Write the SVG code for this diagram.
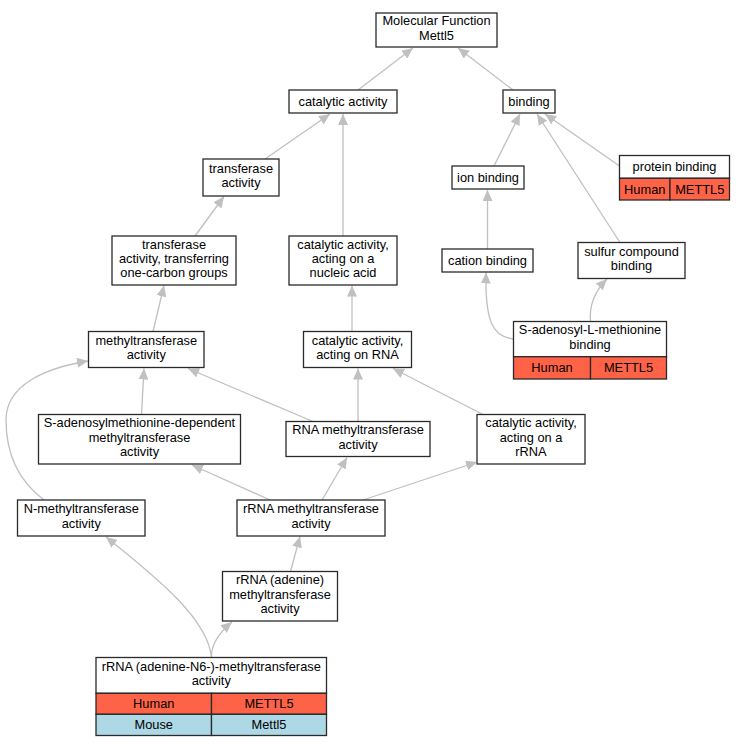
<svg xmlns="http://www.w3.org/2000/svg" width="745" height="747" viewBox="0 0 745 747">
<style>
.n rect{fill:#fff;stroke:#2a2a2a;stroke-width:1.3}
.n rect.h{fill:#ff6347}
.n rect.m{fill:#add8e6}
text{font-family:"Liberation Sans",Arial,sans-serif;font-size:12.8px;fill:#000;text-anchor:middle}
#edges path{fill:none;stroke:#c0c0c0;stroke-width:1.3;marker-end:url(#ah)}
</style>
<defs>
<marker id="ah" markerUnits="userSpaceOnUse" markerWidth="12" markerHeight="10" refX="11" refY="5" orient="auto" viewBox="0 0 12 10">
<path d="M0,0 L11,5 L0,10 z" fill="#c0c0c0"/>
</marker>
</defs>
<rect width="745" height="747" fill="#fff"/>
<g id="edges">
<path d="M358,90 L413,48"/>
<path d="M513,90 L458,48"/>
<path d="M265,159 L330,114"/>
<path d="M343,236 L343,114"/>
<path d="M494,166 L520,114"/>
<path d="M620,242.5 L537,114"/>
<path d="M619.5,166 L545,114"/>
<path d="M195,236 L224,196.5"/>
<path d="M487.5,249 L487.5,190"/>
<path d="M513.5,339 C492,337 485,320 486,272.5"/>
<path d="M590.5,321.5 C589,305 595,291 607,279"/>
<path d="M153,331.5 L164,285.5"/>
<path d="M352,331.5 L352,285.5"/>
<path d="M141.5,414.5 L144,368.5"/>
<path d="M313,421.5 L188,368.5"/>
<path d="M358,421.5 L358,368.5"/>
<path d="M483,414.5 L393,368.5"/>
<path d="M44,500 C20,482 6,455 6,420 C6,385 45,368 88,361"/>
<path d="M270,500 L192,465"/>
<path d="M322,500 L347,457.5"/>
<path d="M363,500 L477,462"/>
<path d="M290.5,571.5 L300,536.5"/>
<path d="M211.5,657.5 C211,645 220,632 232,622"/>
<path d="M211.5,657.5 C208,620 160,580 106,537"/>
</g>
<g id="mf" class="n"><rect x="376" y="13" width="121" height="34"/><text x="436.5" y="25.3">Molecular Function</text><text x="436.5" y="39.7">Mettl5</text></g>
<g id="cat" class="n"><rect x="289" y="90" width="108" height="23"/><text x="343" y="106">catalytic activity</text></g>
<g id="binding" class="n"><rect x="503" y="90" width="52" height="23"/><text x="529" y="106">binding</text></g>
<g id="transferase" class="n"><rect x="203" y="159" width="76" height="37"/><text x="241" y="172.8">transferase</text><text x="241" y="187.2">activity</text></g>
<g id="onecarbon" class="n"><rect x="112" y="236" width="124" height="49"/><text x="174" y="248.6">transferase</text><text x="174" y="263">activity, transferring</text><text x="174" y="277.4">one-carbon groups</text></g>
<g id="nucleic" class="n"><rect x="289" y="236" width="108" height="49"/><text x="343" y="248.6">catalytic activity,</text><text x="343" y="263">acting on a</text><text x="343" y="277.4">nucleic acid</text></g>
<g id="ion" class="n"><rect x="452" y="166" width="72" height="23"/><text x="488" y="182">ion binding</text></g>
<g id="protein" class="n"><rect x="619.5" y="155.5" width="110" height="22.8"/><rect class="h" x="619.5" y="178.3" width="50.5" height="21.7"/><rect class="h" x="670" y="178.3" width="59.5" height="21.7"/><text x="674.5" y="171">protein binding</text><text x="644.75" y="193.7">Human</text><text x="699.75" y="193.7">METTL5</text></g>
<g id="cation" class="n"><rect x="442" y="249" width="91" height="23"/><text x="487.5" y="265">cation binding</text></g>
<g id="sulfur" class="n"><rect x="578" y="242.5" width="107" height="36"/><text x="631.5" y="255.8">sulfur compound</text><text x="631.5" y="270.2">binding</text></g>
<g id="sambinding" class="n"><rect x="513.5" y="321.5" width="153" height="35.2"/><rect class="h" x="513.5" y="356.7" width="77" height="22.3"/><rect class="h" x="590.5" y="356.7" width="76" height="22.3"/><text x="590" y="334.4">S-adenosyl-L-methionine</text><text x="590" y="348.8">binding</text><text x="552" y="372.4">Human</text><text x="628.5" y="372.4">METTL5</text></g>
<g id="methyl" class="n"><rect x="88.5" y="331.5" width="115.5" height="36"/><text x="146.25" y="344.8">methyltransferase</text><text x="146.25" y="359.2">activity</text></g>
<g id="catrna" class="n"><rect x="303.5" y="331.5" width="108" height="36"/><text x="357.5" y="344.8">catalytic activity,</text><text x="357.5" y="359.2">acting on RNA</text></g>
<g id="samdep" class="n"><rect x="38.5" y="414.5" width="202" height="49.5"/><text x="139.5" y="427.4">S-adenosylmethionine-dependent</text><text x="139.5" y="441.8">methyltransferase</text><text x="139.5" y="456.2">activity</text></g>
<g id="rnamethyl" class="n"><rect x="286" y="421.5" width="144" height="35"/><text x="358" y="434.3">RNA methyltransferase</text><text x="358" y="448.7">activity</text></g>
<g id="catrrna" class="n"><rect x="477" y="414.5" width="108" height="49.5"/><text x="531" y="427.4">catalytic activity,</text><text x="531" y="441.8">acting on a</text><text x="531" y="456.2">rRNA</text></g>
<g id="nmethyl" class="n"><rect x="17.5" y="500" width="127.5" height="36"/><text x="81.25" y="513.3">N-methyltransferase</text><text x="81.25" y="527.7">activity</text></g>
<g id="rrnamethyl" class="n"><rect x="237" y="500" width="148" height="36"/><text x="311" y="513.3">rRNA methyltransferase</text><text x="311" y="527.7">activity</text></g>
<g id="rrnaadenine" class="n"><rect x="222.5" y="571.5" width="115" height="49.5"/><text x="280" y="584.4">rRNA (adenine)</text><text x="280" y="598.8">methyltransferase</text><text x="280" y="613.2">activity</text></g>
<g id="n6" class="n"><rect x="96" y="657.5" width="230.5" height="35.8"/><rect class="h" x="96" y="693.3" width="115.5" height="21"/><rect class="h" x="211.5" y="693.3" width="115" height="21"/><rect class="m" x="96" y="714.3" width="115.5" height="21.2"/><rect class="m" x="211.5" y="714.3" width="115" height="21.2"/><text x="211.25" y="670.7">rRNA (adenine-N6-)-methyltransferase</text><text x="211.25" y="685.1">activity</text><text x="153.75" y="708.3">Human</text><text x="269" y="708.3">METTL5</text><text x="153.75" y="729.4">Mouse</text><text x="269" y="729.4">Mettl5</text></g>
</svg>
